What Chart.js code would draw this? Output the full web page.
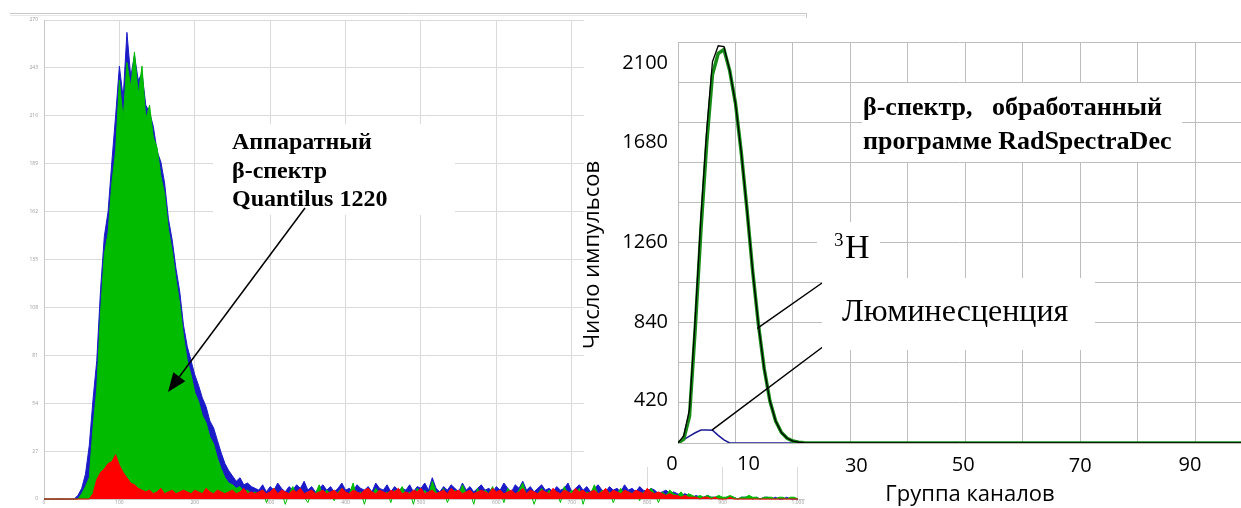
<!DOCTYPE html>
<html>
<head>
<meta charset="utf-8">
<script src="https://cdn.jsdelivr.net/npm/chart.js@4/dist/chart.umd.min.js"></script>
<style>
  html, body { margin: 0; padding: 0; background: #fff; overflow: hidden; }
  #wrap { position: relative; width: 1241px; height: 508px; }
  canvas { position: absolute; left: 0; top: 0; }
</style>
</head>
<body>
<div id="wrap">
  <canvas id="spectrum" width="1241" height="508"></canvas>
  <canvas id="processed" width="1241" height="508"></canvas>
</div>
<script>
// ---- left: hardware spectrum (Quantilus 1220), counts per 5-channel bin ----
var binWidth = 5;
var leftXTicks = [0, 100, 200, 300, 400, 500, 600, 700, 800, 900, 1000];
var leftYTicks = [0, 27, 54, 81, 108, 135, 162, 189, 216, 243, 270];
var blueCounts = [
  0,0,0,0,0,0,0,0,0,
  2,6,14,30,56,78,118,148,
  162,190,216,244,226,263,238,250,236,240,222,218,210,196,
  190,178,158,146,130,117,98,86,78,70,64,57,52,44,40,33,
  26,20,16,13,10,12,8,9,7,
  6,5,8,4,7,5,9,6,4,7,5,8,6,10,5,7,4,6,8,5,
  7,4,6,9,5,6,4,8,6,5,7,4,9,6,5,8,4,7,5,6,
  5,8,4,7,6,9,5,12,6,4,7,5,8,6,4,9,5,7,4,6,
  8,5,6,4,7,5,9,6,4,8,6,10,5,7,4,6,8,5,6,4,
  7,5,6,9,4,6,8,5,7,4,6,8,5,4,7,5,6,4,8,5,
  6,4,7,5,4,6,5,3,4,5,3,4,3,2,3,2,
  1,2,1,1,2,1,1,1,0,1,1,1,0,1,1,1,0,1,0,1,1,0,1,0,0,1,0,0,0
];
var greenCounts = [
  0,0,0,0,0,0,0,0,0,
  0,3,7,12,40,62,105,138,
  150,178,196,236,214,246,232,252,228,244,214,222,204,198,
  182,172,152,140,124,110,92,78,70,60,55,47,43,35,31,23,
  17,12,9,8,6,7,4,5,3,
  4,2,5,-2,3,6,2,4,-3,3,7,2,5,1,-2,4,3,8,2,5,
  3,-1,4,6,2,3,9,1,4,-3,5,2,6,3,1,4,-2,5,3,7,
  2,4,-3,6,3,5,2,10,4,1,6,-2,3,5,2,8,3,4,-3,6,
  2,5,3,7,1,4,-2,6,3,2,5,9,2,4,-3,3,6,2,5,1,
  4,-2,7,3,5,2,6,-3,4,3,8,2,5,1,4,-2,3,6,2,4,
  3,5,-1,4,2,6,3,-2,4,2,5,3,2,4,1,3,
  2,1,2,1,2,1,1,2,1,1,2,1,0,1,1,2,1,1,0,1,1,1,0,1,1,0,1,1,0
];
var redCounts = [
  0,0,0,0,0,0,0,0,0,0,0,0,0,
  3,11,15,17,20,21,25,19,15,12,9,8,6,5,
  4,5,3,4,6,3,4,5,3,4,5,4,3,5,4,3,6,4,3,5,4,3,4,5,3,4,6,3,4,
  3,4,5,3,4,6,3,5,4,3,5,4,6,3,4,5,3,4,5,3,
  4,5,3,6,4,3,5,4,3,5,6,4,3,5,4,3,5,4,6,3,
  4,3,5,4,6,3,4,5,3,4,5,3,6,4,5,3,4,5,3,4,
  5,4,3,6,4,5,3,4,5,3,4,6,3,5,4,3,5,4,3,6,
  4,3,5,4,3,6,4,5,3,4,5,3,4,6,3,5,4,3,5,4,
  3,5,4,3,6,4,3,4,3,2,3,2,2,1,2,1,
  1,1,0,1,1,0,1,0,0,0,1,0,0,0,0,0,0,0,0,0,0,0,0,0,0,0,0,0,0
];
var leftNote = ["Аппаратный", "β-спектр", "Quantilus 1220"];

// ---- right: spectrum processed by RadSpectraDec ----
var totalCounts = [
  0,38,176,654,1188,1640,1997,2080,2076,1950,1780,1525,1225,900,620,390,220,115,55,25,
  10,4,1,0,0,0,0,0,0,0,0,0,0,0,0,0,0,0,0,0,0,0,0,0,0,0,0,0,0,0,
  0,0,0,0,0,0,0,0,0,0,0,0,0,0,0,0,0,0,0,0,0,0,0,0,0,0,0,0,0,0,
  0,0,0,0,0,0,0,0,0,0,0,0,0,0,0,0,0,0,0
];
var tritiumCounts = [
  0,20,140,600,1120,1572,1930,2040,2060,1950,1780,1525,1225,900,620,390,220,115,55,25,
  10,4,1,0,0,0,0,0,0,0,0,0,0,0,0,0,0,0,0,0,0,0,0,0,0,0,0,0,0,0,
  0,0,0,0,0,0,0,0,0,0,0,0,0,0,0,0,0,0,0,0,0,0,0,0,0,0,0,0,0,0,
  0,0,0,0,0,0,0,0,0,0,0,0,0,0,0,0,0,0,0
];
var lumiCounts = [
  0,18,36,54,68,68,67,40,16,0,0,0,0,0,0,0,0,0,0,0,
  0,0,0,0,0,0,0,0,0,0,0,0,0,0,0,0,0,0,0,0,0,0,0,0,0,0,0,0,0,0,
  0,0,0,0,0,0,0,0,0,0,0,0,0,0,0,0,0,0,0,0,0,0,0,0,0,0,0,0,0,0,
  0,0,0,0,0,0,0,0,0,0,0,0,0,0,0,0,0,0,0
];
var yTickLabels = [420, 840, 1260, 1680, 2100];
var xTickLabels = [0, 10, 30, 50, 70, 90];
var rightNote = ["β-спектр,   обработанный", "программе RadSpectraDec"];

function binsToPoints(arr) {
  return arr.map(function (v, i) { return { x: i * binWidth, y: v }; });
}
function groupsToPoints(arr) {
  return arr.map(function (v, i) { return { x: i, y: v }; });
}
function fixedTicks(list) {
  return function (scale) {
    scale.ticks = list.map(function (v) { return { value: v }; });
  };
}

var serif = '"Liberation Serif", "Times New Roman", serif';
var sans = '"Open Sans", "Noto Sans", sans-serif';

var leftDecor = {
  id: "leftDecor",
  beforeDraw: function (chart) {
    var c = chart.ctx;
    c.save();
    c.fillStyle = "#fff";
    c.fillRect(0, 0, chart.width, chart.height);
    c.strokeStyle = "#c8c8c8";
    c.lineWidth = 1;
    c.beginPath();
    c.moveTo(10, 13.5); c.lineTo(807, 13.5);
    c.moveTo(806.5, 13); c.lineTo(806.5, 27);
    c.stroke();
    c.strokeStyle = "#e8e8e8";
    c.beginPath(); c.moveTo(10, 15.5); c.lineTo(805, 15.5); c.stroke();
    c.restore();
  },
  beforeDatasetsDraw: function (chart) {
    var c = chart.ctx;
    c.save();
    c.fillStyle = "#fff";
    c.fillRect(213, 124, 242, 91);
    c.restore();
  },
  afterDraw: function (chart) {
    var c = chart.ctx;
    c.save();
    c.fillStyle = "#000";
    c.font = "bold 24px " + serif;
    c.textBaseline = "middle";
    leftNote.forEach(function (t, i) { c.fillText(t, 232, 143 + i * 28.5); });
    // arrow to the green peak
    var x0 = 305, y0 = 208, x1 = 168, y1 = 392;
    var a = Math.atan2(y1 - y0, x1 - x0), L = 19, W = 7.5;
    var bx = x1 - L * Math.cos(a), by = y1 - L * Math.sin(a);
    c.strokeStyle = "#000";
    c.lineWidth = 1.5;
    c.beginPath(); c.moveTo(x0, y0); c.lineTo(bx, by); c.stroke();
    c.beginPath();
    c.moveTo(x1, y1);
    c.lineTo(bx + W * Math.sin(a), by - W * Math.cos(a));
    c.lineTo(bx - W * Math.sin(a), by + W * Math.cos(a));
    c.closePath(); c.fill();
    c.restore();
  }
};

new Chart(document.getElementById("spectrum").getContext("2d"), {
  type: "line",
  data: {
    datasets: [
      { label: "red", data: binsToPoints(redCounts), borderColor: "#ff0000", backgroundColor: "#ff0000", fill: "origin", order: 0 },
      { label: "green", data: binsToPoints(greenCounts), borderColor: "#00bb00", backgroundColor: "#00bb00", fill: "origin", order: 1 },
      { label: "blue", data: binsToPoints(blueCounts), borderColor: "#1a1ac8", backgroundColor: "#1a1ac8", fill: "origin", order: 2 },
    ],
  },
  options: {
    responsive: false,
    animation: false,
    layout: { padding: { left: 10, top: 20, right: 437, bottom: 0 } },
    elements: { point: { radius: 0 }, line: { borderWidth: 1, tension: 0 } },
    datasets: { line: { clip: false } },
    plugins: { legend: { display: false }, tooltip: { enabled: false } },
    scales: {
      x: {
        type: "linear",
        min: 0,
        max: 1008,
        grid: { color: "#dadada", drawTicks: false },
        border: { color: "#c8c8c8" },
        ticks: { color: "#9a9a9a", font: { size: 5, family: "Open Sans" }, maxRotation: 0, padding: 1 },
        afterBuildTicks: fixedTicks(leftXTicks),
        afterFit: function (s) { s.height = 6; },
      },
      y: {
        min: 0,
        max: 270,
        grid: { color: "#dadada", drawTicks: false },
        border: { color: "#c8c8c8" },
        ticks: { color: "#9a9a9a", font: { size: 5, family: "Open Sans" }, padding: 6 },
        afterBuildTicks: fixedTicks(leftYTicks),
        afterFit: function (s) { s.width = 34; },
      },
    },
  },
  plugins: [leftDecor],
});

// label nudges (px) copying the hand-placed labels of the original
var yLabelShift = [37, 40, 40, 20, 21];
var xLabelShift = [[-6, 21], [13, 21], [6, 23], [-2, 22], [0, 23], [-5, 22]];

var rightDecor = {
  id: "rightDecor",
  beforeDraw: function (chart) {
    var c = chart.ctx;
    c.save();
    c.fillStyle = "#fff";
    c.beginPath();
    c.moveTo(584, 18); c.lineTo(1241, 18); c.lineTo(1241, 508);
    c.lineTo(805, 508); c.lineTo(805, 467); c.lineTo(584, 467);
    c.closePath(); c.fill();
    c.restore();
  },
  afterDraw: function (chart) {
    var c = chart.ctx, xs = chart.scales.x, ys = chart.scales.y;
    c.save();
    // pointer lines
    c.strokeStyle = "#000";
    c.lineWidth = 1.5;
    c.beginPath();
    c.moveTo(xs.getPixelForValue(13.8), ys.getPixelForValue(600)); c.lineTo(822, 283);
    c.moveTo(xs.getPixelForValue(5.9), ys.getPixelForValue(67)); c.lineTo(824, 346);
    c.stroke();
    // white label boxes
    c.fillStyle = "#fff";
    c.fillRect(862, 83, 320, 79);
    c.fillRect(817, 222, 63, 56);
    c.fillRect(822, 278, 273, 72);
    c.fillStyle = "#000";
    c.textBaseline = "middle";
    c.font = "bold 26px " + serif;
    rightNote.forEach(function (t, i) { c.fillText(t, 863, 108 + i * 34); });
    c.textBaseline = "alphabetic";
    c.font = "19px " + serif;
    c.fillText("3", 834, 246);
    c.font = "34px " + serif;
    c.fillText("H", 845, 258);
    c.font = "32px " + serif;
    c.fillText("Люминесценция", 842, 321);
    // tick labels
    c.font = "20px " + sans;
    c.textBaseline = "middle";
    c.textAlign = "right";
    yTickLabels.forEach(function (v, i) { c.fillText(String(v), 668, ys.getPixelForValue(v) + yLabelShift[i]); });
    c.textAlign = "center";
    xTickLabels.forEach(function (v, i) {
      c.fillText(String(v), xs.getPixelForValue(v) + xLabelShift[i][0], ys.bottom + xLabelShift[i][1]);
    });
    // axis titles
    c.font = "22px " + sans;
    c.fillText("Группа каналов", 970, 495);
    c.translate(593, 255);
    c.rotate(-Math.PI / 2);
    c.fillText("Число импульсов", 0, 0);
    c.restore();
  },
};

new Chart(document.getElementById("processed").getContext("2d"), {
  type: "line",
  data: {
    datasets: [
      { label: "Сумма", data: groupsToPoints(totalCounts), borderColor: "#000", borderWidth: 1.3, order: 0 },
      { label: "3H", data: groupsToPoints(tritiumCounts), borderColor: "#178a17", borderWidth: 3.5, order: 1 },
      { label: "Люминесценция", data: groupsToPoints(lumiCounts), borderColor: "#1c1c96", borderWidth: 1.6, order: 2 },
    ],
  },
  options: {
    responsive: false,
    animation: false,
    layout: { padding: { left: 678, top: 42, right: 0, bottom: 65 } },
    elements: { point: { radius: 0 }, line: { tension: 0, fill: false } },
    plugins: { legend: { display: false }, tooltip: { enabled: false } },
    scales: {
      x: {
        type: "linear",
        min: 0,
        max: 98,
        grid: { color: "#bdbdbd", drawTicks: false },
        border: { display: false },
        ticks: { display: false, stepSize: 10 },
        afterFit: function (s) { s.height = 0; },
      },
      y: {
        min: 0,
        max: 2100,
        grid: { color: "#bdbdbd", drawTicks: false },
        border: { display: false },
        ticks: { display: false, stepSize: 210 },
        afterFit: function (s) { s.width = 0; },
      },
    },
  },
  plugins: [rightDecor],
});
</script>
</body>
</html>
